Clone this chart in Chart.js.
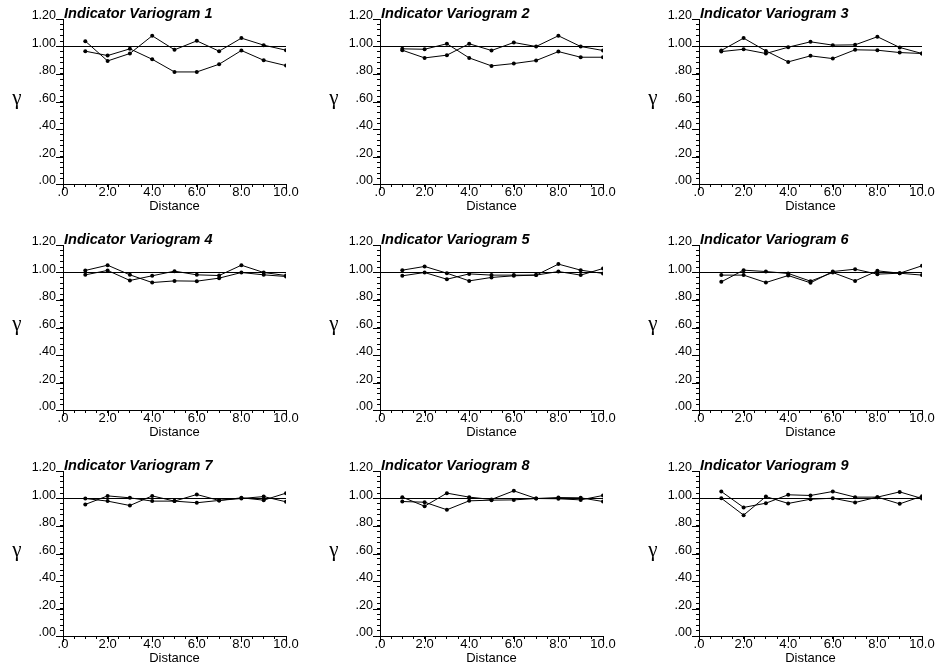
<!DOCTYPE html>
<html>
<head>
<meta charset="utf-8">
<script src="https://cdn.jsdelivr.net/npm/chart.js@4.4.0/dist/chart.umd.min.js"></script>
<style>
  html, body { margin: 0; padding: 0; background: #fff; }
  body { width: 940px; height: 668px; position: relative; overflow: hidden; }
  canvas.panel { position: absolute; }
</style>
</head>
<body>
<script>
// Lag distances shared by every indicator variogram
const distances = [1, 2, 3, 4, 5, 6, 7, 8, 9, 10];
const sill = 1.0;

// Two experimental directions per indicator variogram
const ivA1 = [1.039, 0.895, 0.949, 1.078, 0.976, 1.041, 0.966, 1.061, 1.010, 0.973];
const ivB1 = [0.966, 0.934, 0.983, 0.907, 0.815, 0.815, 0.871, 0.971, 0.900, 0.861];
const ivA2 = [0.983, 0.980, 1.020, 0.917, 0.859, 0.876, 0.898, 0.963, 0.922, 0.922];
const ivB2 = [0.973, 0.917, 0.937, 1.020, 0.971, 1.029, 1.000, 1.078, 1.000, 0.971];
const ivA3 = [0.971, 1.061, 0.968, 0.888, 0.932, 0.912, 0.976, 0.973, 0.956, 0.949];
const ivB3 = [0.963, 0.980, 0.949, 0.995, 1.034, 1.010, 1.012, 1.071, 0.993, 0.949];
const ivA4 = [1.015, 1.053, 0.983, 0.927, 0.939, 0.937, 0.959, 1.000, 0.983, 0.971];
const ivB4 = [0.983, 1.015, 0.942, 0.976, 1.010, 0.983, 0.978, 1.053, 1.000, 0.978];
const ivA5 = [1.017, 1.044, 0.995, 0.939, 0.964, 0.976, 0.981, 1.061, 1.017, 0.993];
const ivB5 = [0.976, 1.000, 0.951, 0.990, 0.981, 0.981, 0.981, 1.007, 0.981, 1.029];
const ivA6 = [0.932, 1.017, 1.007, 0.993, 0.937, 1.000, 0.939, 1.012, 0.995, 1.049];
const ivB6 = [0.981, 0.981, 0.927, 0.978, 0.925, 1.007, 1.024, 0.988, 0.995, 0.981];
const ivA7 = [0.957, 1.019, 1.005, 0.981, 0.981, 1.029, 0.986, 1.005, 0.988, 1.039];
const ivB7 = [1.000, 0.981, 0.949, 1.019, 0.981, 0.969, 0.986, 1.000, 1.014, 0.976];
const ivA8 = [1.010, 0.944, 1.039, 1.010, 0.993, 1.056, 1.000, 1.007, 1.005, 0.978];
const ivB8 = [0.978, 0.973, 0.918, 0.983, 0.988, 0.990, 1.000, 0.998, 0.990, 1.022];
const ivA9 = [1.051, 0.935, 0.966, 1.027, 1.022, 1.051, 1.010, 1.010, 0.961, 1.017];
const ivB9 = [1.002, 0.879, 1.014, 0.964, 0.995, 1.002, 0.971, 1.010, 1.048, 1.000];

const panelTitles = [
  'Indicator Variogram 1', 'Indicator Variogram 2', 'Indicator Variogram 3',
  'Indicator Variogram 4', 'Indicator Variogram 5', 'Indicator Variogram 6',
  'Indicator Variogram 7', 'Indicator Variogram 8', 'Indicator Variogram 9'
];

// Axis ticks: labelled (major) values and their text, plus minor tick steps
const yMajor = [0, 0.2, 0.4, 0.6, 0.8, 1.0, 1.2];
const yTickLabels = ['.00', '.20', '.40', '.60', '.80', '1.00', '1.20'];
const xMajor = [0, 2, 4, 6, 8, 10];
const xTickLabels = ['.0', '2.0', '4.0', '6.0', '8.0', '10.0'];
const yRange = [0, 1.2], yMinorStep = 0.04;
const xRange = [0, 10], xMinorStep = 0.5;

const panelSeries = [
  [ivA1, ivB1], [ivA2, ivB2], [ivA3, ivB3],
  [ivA4, ivB4], [ivA5, ivB5], [ivA6, ivB6],
  [ivA7, ivB7], [ivA8, ivB8], [ivA9, ivB9]
];

function stepValues(range, step) {
  const out = [];
  const n = Math.round((range[1] - range[0]) / step);
  for (let i = 0; i <= n; i++) out.push(+(range[0] + i * step).toFixed(4));
  return out;
}
const yTickValues = stepValues(yRange, yMinorStep);
const xTickValues = stepValues(xRange, xMinorStep);

function labelFor(value, majors, labels) {
  const i = majors.findIndex(m => Math.abs(m - value) < 1e-6);
  return i >= 0 ? labels[i] : '';
}

const SANS = '"Liberation Sans", Arial, sans-serif';

// Title above each plot, the gamma symbol beside the y axis, and longer major tick marks
const panelDecor = {
  id: 'panelDecor',
  afterDraw(chart, args, opts) {
    const { ctx, chartArea } = chart;
    const xs = chart.scales.x, ys = chart.scales.y;
    ctx.save();
    ctx.strokeStyle = '#000';
    ctx.lineWidth = 1;
    ctx.beginPath();
    yMajor.forEach(v => {
      const py = Math.round(ys.getPixelForValue(v)) + 0.5;
      ctx.moveTo(chartArea.left - 7, py);
      ctx.lineTo(chartArea.left, py);
    });
    xMajor.forEach(v => {
      const px = Math.round(xs.getPixelForValue(v)) + 0.5;
      ctx.moveTo(px, chartArea.bottom);
      ctx.lineTo(px, chartArea.bottom + 6);
    });
    ctx.stroke();

    ctx.fillStyle = '#000';
    ctx.textAlign = 'left';
    ctx.textBaseline = 'alphabetic';
    ctx.font = 'italic bold 14.5px ' + SANS;
    ctx.fillText(opts.title, chartArea.left + 1, chartArea.top - 1.5);

    ctx.textAlign = 'center';
    ctx.font = '21px "Liberation Serif", "Times New Roman", serif';
    ctx.fillText('\u03B3', chartArea.left - 46, (chartArea.top + chartArea.bottom) / 2 + 2);
    ctx.restore();
  }
};

const colLeft = [0, 317, 636];
const rowTop = [0, 226, 452];
const PANEL_W = 304, PANEL_H = 226;

function lineSet(values) {
  return {
    data: distances.map((d, i) => ({ x: d, y: values[i] })),
    showLine: true,
    borderColor: '#000',
    borderWidth: 1,
    pointRadius: 2,
    pointBorderWidth: 0,
    pointBackgroundColor: '#000',
    tension: 0
  };
}

panelSeries.forEach((pair, idx) => {
  const canvas = document.createElement('canvas');
  canvas.className = 'panel';
  canvas.width = PANEL_W;
  canvas.height = PANEL_H;
  canvas.style.left = colLeft[idx % 3] + 'px';
  canvas.style.top = rowTop[Math.floor(idx / 3)] + 'px';
  canvas.style.width = PANEL_W + 'px';
  canvas.style.height = PANEL_H + 'px';
  document.body.appendChild(canvas);

  new Chart(canvas, {
    type: 'scatter',
    data: {
      datasets: [
        {
          data: [{ x: xRange[0], y: sill }, { x: xRange[1], y: sill }],
          showLine: true,
          borderColor: '#000',
          borderWidth: 1,
          pointRadius: 0
        },
        lineSet(pair[0]),
        lineSet(pair[1])
      ]
    },
    options: {
      responsive: false,
      animation: false,
      devicePixelRatio: 1,
      events: [],
      layout: { padding: { top: 19, right: 18, left: 0, bottom: 0 } },
      plugins: {
        legend: { display: false },
        tooltip: { enabled: false },
        panelDecor: { title: panelTitles[idx] }
      },
      scales: {
        x: {
          type: 'linear',
          min: xRange[0],
          max: xRange[1],
          afterBuildTicks: s => { s.ticks = xTickValues.map(v => ({ value: v })); },
          afterFit: s => { s.height = 42; },
          ticks: {
            autoSkip: false,
            maxRotation: 0,
            minRotation: 0,
            padding: -2,
            color: '#000',
            font: { family: SANS, size: 13 },
            callback: v => labelFor(v, xMajor, xTickLabels)
          },
          grid: { display: true, drawOnChartArea: false, drawTicks: true, tickLength: 3, color: '#000' },
          border: { display: true, color: '#000', width: 1 },
          title: {
            display: true,
            text: 'Distance',
            color: '#000',
            font: { family: SANS, size: 13 },
            padding: { top: 0, bottom: 12 }
          }
        },
        y: {
          type: 'linear',
          min: yRange[0],
          max: yRange[1],
          afterBuildTicks: s => { s.ticks = yTickValues.map(v => ({ value: v })); },
          afterFit: s => { s.width = 63; },
          ticks: {
            autoSkip: false,
            padding: 4,
            labelOffset: -3,
            color: '#000',
            font: { family: SANS, size: 12.5 },
            callback: v => labelFor(v, yMajor, yTickLabels)
          },
          grid: { display: true, drawOnChartArea: false, drawTicks: true, tickLength: 3, color: '#000' },
          border: { display: true, color: '#000', width: 1 }
        }
      }
    },
    plugins: [panelDecor]
  });
});
</script>
</body>
</html>
